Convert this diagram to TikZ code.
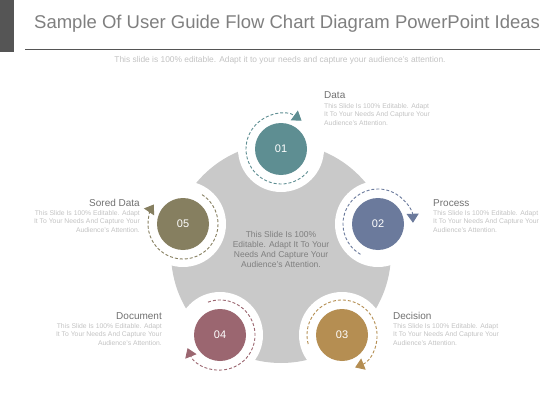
\documentclass[tikz,border=0pt]{standalone}
\usepackage{fontspec}
\setmainfont{Liberation Sans}
\usetikzlibrary{arrows.meta}
\definecolor{cA}{HTML}{5E8E92}
\definecolor{cB}{HTML}{6B7A9C}
\definecolor{cC}{HTML}{B58E52}
\definecolor{cD}{HTML}{9B6670}
\definecolor{cE}{HTML}{867F60}
\definecolor{bggray}{HTML}{C9C9C9}
\definecolor{titlegray}{HTML}{7F7F7F}
\definecolor{labgray}{HTML}{707070}
\definecolor{descgray}{HTML}{C2C2C2}
\definecolor{bargray}{HTML}{555555}
\tikzset{
  disc/.style={circle, fill=#1, minimum size=52pt, inner sep=0pt, text=white, font=\fontsize{11}{11}\selectfont},
  ring/.style={circle, fill=white, minimum size=86pt, inner sep=0pt},
  darc/.style={draw=#1, line width=0.9pt, dash pattern=on 3pt off 2pt, -{Triangle[length=9pt,width=12pt]}},
  labtitle/.style={inner sep=0pt, text=labgray, font=\fontsize{10}{12}\selectfont},
  desc/.style={inner sep=0pt, text=descgray, font=\fontsize{6.8}{8.5}\selectfont},
}
\begin{document}
\begin{tikzpicture}[x=1pt,y=1pt]
\useasboundingbox (0,0) rectangle (560,-420);
% header
\fill[bargray] (0,0) rectangle (14,-52);
\node[anchor=base west, inner sep=0pt, text=titlegray, font=\fontsize{18.5}{20}\selectfont] (title) at (34,-28.5) {Sample Of User Guide Flow Chart Diagram PowerPoint Ideas};
\draw[bargray, line width=0.8pt] (25,-49) -- (540,-49);
\node[inner sep=0pt, text=descgray, font=\fontsize{8.4}{10}\selectfont] (sub) at (280,-60) {This slide is 100\% editable. Adapt it to your needs and capture your audience's attention.};
% big gray disc
\fill[bggray] (281,-253) circle[radius=110];
% node centres
\coordinate (p1) at (281,-149);
\coordinate (p2) at (378,-224);
\coordinate (p3) at (342,-335);
\coordinate (p4) at (220,-335);
\coordinate (p5) at (183,-224);
\foreach \p in {p1,p2,p3,p4,p5} \node[ring] at (\p) {};
\node[disc=cA] (n1) at (p1) {01};
\node[disc=cB] (n2) at (p2) {02};
\node[disc=cC] (n3) at (p3) {03};
\node[disc=cD] (n4) at (p4) {04};
\node[disc=cE] (n5) at (p5) {05};
% dashed circular arrows
\draw[darc=cA] (n1.center) ++(-40:35) arc[start angle=-40, end angle=-306, radius=35];
\draw[darc=cB] (n2.center) ++(240:35) arc[start angle=240, end angle=2, radius=35];
\draw[darc=cC] (n3.center) ++(195:35) arc[start angle=195, end angle=-68, radius=35];
\draw[darc=cD] (n4.center) ++(110:35) arc[start angle=110, end angle=-158, radius=35];
\draw[darc=cE] (n5.center) ++(57:35) arc[start angle=57, end angle=-214, radius=35];
% centre text
\node[inner sep=0pt, align=center, text=titlegray, font=\fontsize{8.5}{10}\selectfont] (ctext) at (281,-249) {This Slide Is 100\%\\Editable. Adapt It To Your\\Needs And Capture Your\\Audience's Attention.};
% labels
\node[labtitle, anchor=base west] (t1) at (324,-99) {Data};
\node[desc, anchor=north west, align=left] (d1) at (324,-103) {This Slide Is 100\% Editable. Adapt\\It To Your Needs And Capture Your\\Audience's Attention.};
\node[labtitle, anchor=base west] (t2) at (433,-206) {Process};
\node[desc, anchor=north west, align=left] (d2) at (433,-210) {This Slide Is 100\% Editable. Adapt\\It To Your Needs And Capture Your\\Audience's Attention.};
\node[labtitle, anchor=base west] (t3) at (393,-319) {Decision};
\node[desc, anchor=north west, align=left] (d3) at (393,-323) {This Slide Is 100\% Editable. Adapt\\It To Your Needs And Capture Your\\Audience's Attention.};
\node[labtitle, anchor=base east] (t4) at (162,-319) {Document};
\node[desc, anchor=north east, align=right] (d4) at (162,-323) {This Slide Is 100\% Editable. Adapt\\It To Your Needs And Capture Your\\Audience's Attention.};
\node[labtitle, anchor=base east] (t5) at (140,-206) {Sored Data};
\node[desc, anchor=north east, align=right] (d5) at (140,-210) {This Slide Is 100\% Editable. Adapt\\It To Your Needs And Capture Your\\Audience's Attention.};
\end{tikzpicture}
\end{document}
